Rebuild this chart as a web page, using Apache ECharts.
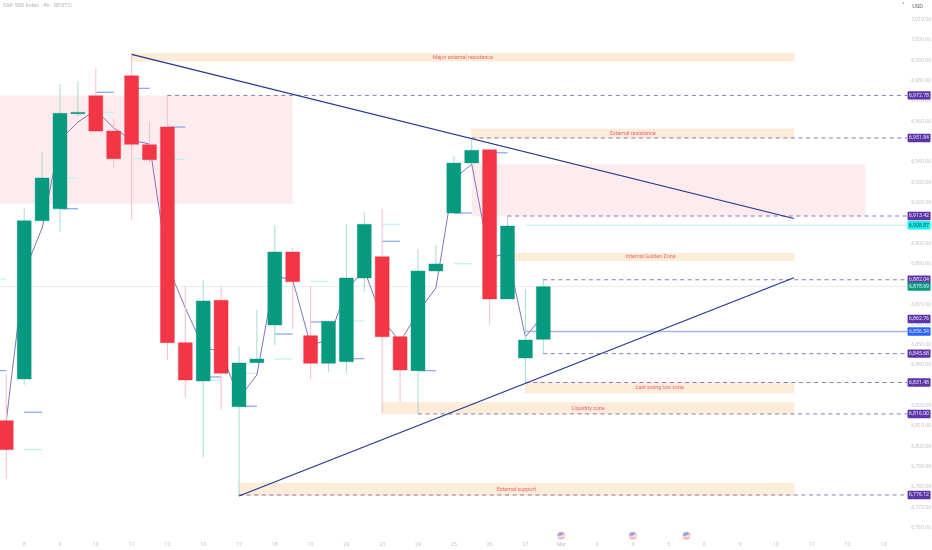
<!DOCTYPE html>
<html>
<head>
<meta charset="utf-8">
<style>html,body{margin:0;padding:0;background:#fff}#c{width:932px;height:550px}</style>
<script src="https://cdn.jsdelivr.net/npm/echarts@6/dist/echarts.min.js"></script>
</head>
<body>
<div id="c"></div>
<script>
const categories = ['', '', '8', '', '9', '', '10', '', '11', '', '12', '', '13', '', '17', '', '18', '', '19', '', '20', '', '23', '', '24', '', '25', '', '26', '', '27', '', 'Mar', '', '3', '', '4', '', '5', '', '6', '', '9', '', '10', '', '11', '', '12', '', '13', ''];
// candles start at category index 1
const opens  = [6812.68,6833.2,6911.1,6917.01,6963.76,6972.62,6955.24,6982.46,6948.5,6957.21,6851.07,6832.22,6871.93,6819.57,6841.23,6859.78,6895.7,6854.51,6840.93,6841.72,6882.91,6893.39,6854.02,6837.29,6886.35,6914.89,6939.5,6946.04,6872.57,6843.54,6852.74];
const closes = [6798.41,6911.1,6932.12,6963.95,6964.45,6955.24,6941.61,6948.7,6941.12,6851.07,6832.71,6871.59,6836.01,6841.08,6843.05,6895.7,6881.09,6840.93,6861.6,6882.91,6909.33,6854.02,6837.63,6886.35,6889.8,6939.5,6945.75,6872.57,6908.5,6852.4,6878.63];
const highs  = [6835.66,6917.35,6944.76,6978.37,6979.85,6986.1,6961.49,6992.99,6959.82,6972.78,6879.12,6881.92,6879.12,6849.3,6867.16,6908.99,6898.01,6878.97,6861.6,6909.48,6915.24,6916.86,6854.02,6897.03,6899.15,6942.94,6951.16,6946.04,6913.27,6877.35,6882.41];
const lows   = [6783.99,6830.25,6911.1,6905.69,6962.63,6955.24,6937.18,6911.45,6939.5,6842.55,6824.0,6794.48,6817.8,6775.6,6841.23,6849.94,6857.81,6833.06,6836.8,6836.3,6876.16,6816.47,6821.54,6815.98,6886.35,6914.89,6939.5,6859.78,6872.57,6831.38,6845.51];
const trace  = [6812.68,6885.86,6907.51,6950.82,6959.67,6965.58,6956.72,6950.82,6948.85,6889.3,6868.14,6848.95,6846.49,6823.85,6835.17,6883.89,6881.92,6849.94,6852.4,6877.0,6886.84,6862.73,6851.41,6866.17,6877.99,6931.62,6939.01,6892.75,6895.21,6853.87,6864.7];
// short session markers: [category index, value]
const blueStubs = [[0,6837.29],[2,6816.82],[4,6917.01],[6,6974.29],[8,6976.26],[10,6957.21],[12,6834.19],[14,6819.77],[16,6855.35],[18,6861.25],[20,6843.19],[22,6900.97],[24,6837.29],[26,6914.89],[28,6944.57]];
const cyanStubs = [[0,6882.41],[2,6798.41],[4,6932.12],[6,6964.45],[8,6941.61],[10,6941.32],[12,6832.71],[14,6836.01],[16,6843.05],[18,6881.09],[20,6861.75],[22,6909.33],[26,6889.94]];
// [from index, to index, low, high, label]
const labelledZones = [
  [8,45,6989.69,6993.38,'Major external resistance'],
  [27,45,6951.8,6956.23,'External resistance'],
  [29,45,6891.42,6895.06,'Internal Golden Zone'],
  [30,45,6826.46,6831.38,'Last swing low zone'],
  [22,45,6816.13,6821.54,'Liquidity zone'],
  [14,45,6775.87,6781.88,'External support']
];
const supplyZones = [[0,17,6919.47,6972.78],[27,49,6913.27,6938.86]];
const trendLines = [[8,6992.99,45,6912.19],[14,6775.6,45,6883.05]];
const dashedLevels = [[10,6972.78],[27,6951.84],[29,6913.42],[31,6882.04],[31,6845.68],[30,6831.48],[24,6816.0],[14,6776.12]];
const blueLevel = [30,6856.54];
const cyanLevel = [30,6908.87];
const lastLevel = [0,6878.69];
const purpleTags = [6972.78,6951.84,6913.42,6882.04,6862.76,6845.68,6831.48,6816.0,6776.12];
const hiddenTicks = [6950,6910,6880,6830];
const flagIndexes = [32,36,39];

const UP='#089981', DOWN='#F23645';
const fmt = v => v.toLocaleString('en-US',{minimumFractionDigits:2,maximumFractionDigits:2});
const candles = opens.map((o,i)=>[i+1,o,closes[i],lows[i],highs[i]]);
const traceData = [null].concat(trace);

function rightEdge(p){return p.coordSys.x+p.coordSys.width;}

function stubSeries(data,color,z){
  return {type:'custom',z,silent:true,data,encode:{x:0,y:1},
    renderItem(p,api){
      const a=api.coord([api.value(0),api.value(1)]), b=api.coord([api.value(0)+1,api.value(1)]);
      return {type:'line',shape:{x1:a[0],y1:a[1],x2:b[0],y2:b[1]},style:{stroke:color,lineWidth:1.3}};
    }};
}
function levelSeries(data,style,z){
  return {type:'custom',z,silent:true,data,encode:{x:0,y:1},
    renderItem(p,api){
      const a=api.coord([api.value(0),api.value(1)]);
      return {type:'line',shape:{x1:a[0],y1:a[1],x2:rightEdge(p)-3,y2:a[1]},style};
    }};
}
function tagSeries(data,fill,textColor){
  return {type:'custom',z:8,silent:true,data:data.map(v=>[0,v]),encode:{y:1},
    renderItem(p,api){
      const y=api.coord([0,api.value(1)])[1], x=rightEdge(p)-2.7;
      return {type:'group',children:[
        {type:'rect',shape:{x,y:y-4.2,width:23,height:8.4,r:1},style:{fill}},
        {type:'text',style:{x:x+11.5,y,text:fmt(api.value(1)),fill:textColor,font:'5.2px Roboto',align:'center',verticalAlign:'middle'}}
      ]};
    }};
}

const chart = echarts.init(document.getElementById('c'),null,{renderer:'canvas'});
chart.setOption({
  animation:false,
  backgroundColor:'#ffffff',
  title:{text:'S&P 500 Index · 4h · SPOTO',left:3,top:3,padding:0,textStyle:{fontSize:5.6,fontWeight:'normal',color:'#b2b5be',fontFamily:'Roboto'}},
  graphic:[{type:'circle',shape:{cx:903.5,cy:3,r:0.7},style:{fill:'#787b86'}}],
  grid:{left:-20.55,right:21.75,top:19.8,bottom:22.3,outerBoundsMode:'none'},
  xAxis:{type:'category',data:categories,boundaryGap:true,axisLine:{show:false},axisTick:{show:false},splitLine:{show:false},
    axisLabel:{interval:0,margin:14,fontSize:5.4,color:'#c2c4cb',fontFamily:'Roboto',hideOverlap:false}},
  yAxis:{type:'value',position:'right',min:6760,max:7010,interval:10,axisLine:{show:false},axisTick:{show:false},splitLine:{show:false},
    name:'USD',nameLocation:'end',nameGap:10,nameTextStyle:{fontSize:5.6,color:'#60636e',align:'left',padding:[0,0,0,2],fontFamily:'Roboto'},
    axisLabel:{margin:1,fontSize:5.2,color:'#c5c7ce',fontFamily:'Roboto',
      formatter:v=>hiddenTicks.includes(v)?'':fmt(v)}},
  series:[
    {type:'custom',z:1,silent:true,data:supplyZones,encode:{x:[0,1],y:[2,3]},
      renderItem(p,api){
        const a=api.coord([api.value(0),api.value(3)]), b=api.coord([api.value(1),api.value(2)]);
        return {type:'rect',shape:{x:a[0],y:a[1],width:b[0]-a[0],height:b[1]-a[1]},style:{fill:'#feebee'}};
      }},
    {type:'custom',z:2,silent:true,data:labelledZones,dimensions:['a','b','lo','hi',{name:'t',type:'ordinal'}],encode:{x:[0,1],y:[2,3]},
      renderItem(p,api){
        const i=p.dataIndex, a=api.coord([api.value(0),api.value(3)]), b=api.coord([api.value(1),api.value(2)]);
        return {type:'group',children:[
          {type:'rect',shape:{x:a[0],y:a[1],width:b[0]-a[0],height:b[1]-a[1]},style:{fill:'#fdecd8',stroke:'#fbe5cc',lineWidth:0.6}},
          {type:'text',style:{x:(a[0]+b[0])/2,y:(a[1]+b[1])/2,text:labelledZones[i][4],fill:'#f1636e',font:'5.4px Roboto',align:'center',verticalAlign:'middle'}}
        ]};
      }},
    levelSeries([lastLevel],{stroke:'#e3efec',lineWidth:1},2),
    levelSeries([cyanLevel],{stroke:'#b3f1f4',lineWidth:1.2},2),
    levelSeries([blueLevel],{stroke:'#a3b7ec',lineWidth:1.6},2),
    stubSeries(blueStubs,'#8fa9ec',3),
    stubSeries(cyanStubs,'#c0f3ef',3),
    {type:'line',z:4,data:traceData,symbol:'none',silent:true,connectNulls:false,lineStyle:{color:'#8273bd',width:1}},
    {type:'custom',z:5,silent:true,data:candles,encode:{x:0,y:[1,2,3,4]},
      renderItem(p,api){
        const i=api.value(0),o=api.value(1),c=api.value(2),l=api.value(3),h=api.value(4);
        const up=c>=o, x=api.coord([i,o])[0];
        const yo=api.coord([i,o])[1], yc=api.coord([i,c])[1], yl=api.coord([i,l])[1], yh=api.coord([i,h])[1];
        const w=api.size([1,0])[0]*0.78;
        return {type:'group',children:[
          {type:'line',shape:{x1:x,y1:yh,x2:x,y2:yl},style:{stroke:up?'#a6dacf':'#f9c0c7',lineWidth:1}},
          {type:'rect',shape:{x:x-w/2,y:Math.min(yo,yc),width:w,height:Math.abs(yo-yc)},style:{fill:up?UP:DOWN,stroke:up?UP:DOWN,lineWidth:0.4}}
        ]};
      }},
    {type:'custom',z:6,silent:true,data:dashedLevels,encode:{x:0,y:1},
      renderItem(p,api){
        const a=api.coord([api.value(0),api.value(1)]);
        return {type:'line',shape:{x1:a[0],y1:a[1],x2:rightEdge(p)-3,y2:a[1]},style:{stroke:'#7e6cb8',lineWidth:0.9,lineDash:[4,3.6]}};
      }},
    {type:'custom',z:7,silent:true,data:trendLines,encode:{x:[0,2],y:[1,3]},
      renderItem(p,api){
        const a=api.coord([api.value(0),api.value(1)]), b=api.coord([api.value(2),api.value(3)]);
        return {type:'line',shape:{x1:a[0],y1:a[1],x2:b[0],y2:b[1]},style:{stroke:'#23378f',lineWidth:1.25}};
      }},
    tagSeries(purpleTags,'#5e35a8','#e9e2f7'),
    tagSeries([blueLevel[1]],'#2962ff','#dfe8ff'),
    tagSeries([cyanLevel[1]],'#18f0f0','#0b4a4a'),
    tagSeries([lastLevel[1]],UP,'#dff5ef'),
    {type:'custom',z:8,silent:true,data:flagIndexes.map(i=>[i,6756]),encode:{x:0,y:1},clip:false,
      renderItem(p,api){
        const c=api.coord([api.value(0),api.value(1)]);
        return {type:'group',children:[
          {type:'circle',shape:{cx:c[0],cy:c[1],r:4},style:{fill:'#f6bcc3'}},
          {type:'rect',shape:{x:c[0]-3.4,y:c[1]-0.6,width:6.8,height:1.6},style:{fill:'#fbeef0'}},
          {type:'sector',shape:{cx:c[0],cy:c[1],r:3.6,r0:0,startAngle:Math.PI,endAngle:Math.PI*1.75},style:{fill:'#8fa6de'}}
        ]};
      }}
  ]
});
</script>
</body>
</html>
